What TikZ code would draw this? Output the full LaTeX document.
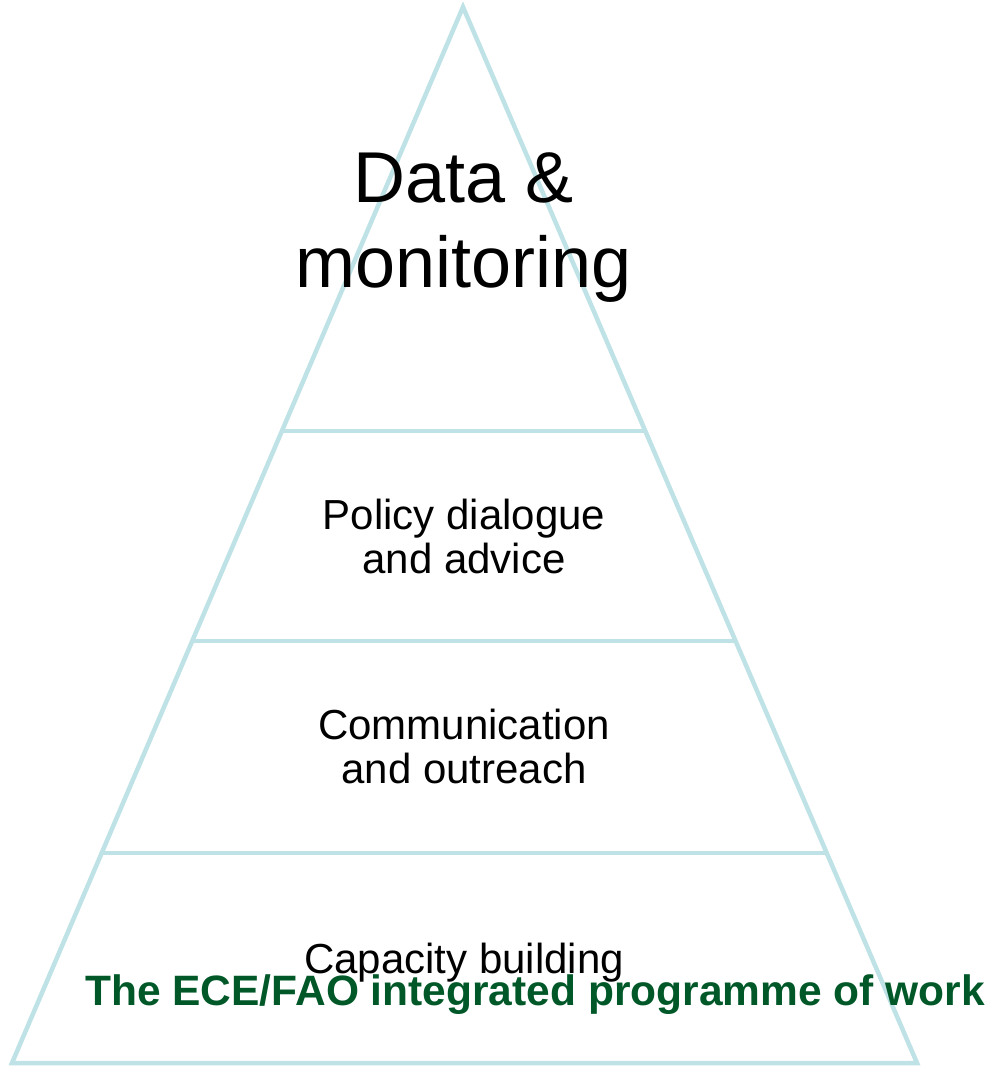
\documentclass[tikz,border=0pt]{standalone}
\usepackage{fontspec}
\setmainfont{Liberation Sans}
\usetikzlibrary{calc}
\definecolor{pyrline}{RGB}{190,226,229}
\definecolor{titlegreen}{RGB}{0,88,40}
\tikzset{
  pyr/.style={draw=pyrline, line width=4.5pt, line join=miter},
  bigtxt/.style={font=\fontsize{72}{85}\selectfont, align=center, inner sep=0pt, anchor=base},
  midtxt/.style={font=\fontsize{42}{44}\selectfont, align=center, inner sep=0pt, anchor=base},
  titletxt/.style={font=\bfseries\fontsize{42.5}{50}\selectfont, text=titlegreen, inner sep=0pt, anchor=base}
}
\begin{document}
\begin{tikzpicture}[x=1pt,y=-1pt]
\useasboundingbox (0,0) rectangle (992,1066);
\coordinate (apex) at (463,7);
\coordinate (bl) at (12,1063);
\coordinate (br) at (917,1063);
\draw[pyr] (apex) -- (bl) -- (br) -- cycle;
\foreach \t/\n in {0.4015/a,0.6004/b,0.8011/c}{
  \coordinate (l\n) at ($(apex)!\t!(bl)$);
  \coordinate (r\n) at ($(apex)!\t!(br)$);
  \draw[pyr] (l\n) -- (r\n);
}
\node[bigtxt] (data) at (464,287) {Data \&\\monitoring};
\node[midtxt] (policy) at (464,573) {Policy dialogue\\and advice};
\node[midtxt] (comm) at (464,783) {Communication\\and outreach};
\node[midtxt] (cap) at (464,973) {Capacity building};
\node[titletxt] (title) at (535,1005) {The ECE/FAO integrated programme of work};
\end{tikzpicture}
\end{document}
